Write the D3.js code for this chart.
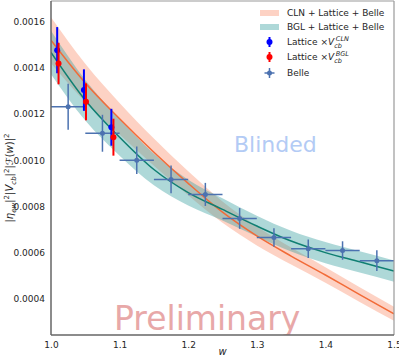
<!DOCTYPE html>
<html>
<head>
<meta charset="utf-8">
<script src="https://cdn.jsdelivr.net/npm/d3@7"></script>
<style>
  body { margin: 0; background: #fff; }
  svg { font-family: "DejaVu Sans", sans-serif; }
</style>
</head>
<body>
<div id="chart"></div>
<script>
// fit curves sampled on a w grid (values in units of 1e-3 are scaled below)
const wGrid = [1.0, 1.05, 1.1, 1.15, 1.2, 1.25, 1.3, 1.35, 1.4, 1.45, 1.5];
const clnMid = [1.520, 1.335, 1.180, 1.035, 0.900, 0.775, 0.672, 0.585, 0.503, 0.418, 0.335];
const clnHi = [1.620, 1.418, 1.248, 1.094, 0.952, 0.821, 0.713, 0.622, 0.537, 0.450, 0.365];
const clnLo = [1.420, 1.252, 1.112, 0.976, 0.848, 0.729, 0.631, 0.548, 0.469, 0.386, 0.305];
const bglMid = [1.467, 1.260, 1.100, 0.960, 0.860, 0.787, 0.715, 0.650, 0.600, 0.560, 0.520];
const bglHi = [1.561, 1.348, 1.180, 1.028, 0.916, 0.835, 0.760, 0.695, 0.646, 0.606, 0.566];
const bglLo = [1.373, 1.172, 1.020, 0.892, 0.804, 0.739, 0.670, 0.605, 0.554, 0.514, 0.474];

// Belle data
const belleW = [1.025, 1.075, 1.125, 1.175, 1.225, 1.275, 1.325, 1.375, 1.425, 1.475];
const belleY = [1.232, 1.117, 1.000, 0.917, 0.852, 0.748, 0.665, 0.617, 0.609, 0.565];
const belleErr = [0.100, 0.080, 0.060, 0.060, 0.050, 0.045, 0.040, 0.040, 0.040, 0.045];
const belleWErr = 0.025;

// lattice points
const latCLNw = [1.009, 1.048, 1.088];
const latCLNy = [1.477, 1.304, 1.143];
const latCLNerr = [0.100, 0.090, 0.080];
const latBGLw = [1.011, 1.051, 1.091];
const latBGLy = [1.419, 1.253, 1.100];
const latBGLerr = [0.090, 0.080, 0.080];

const xTicks = [1.0, 1.1, 1.2, 1.3, 1.4, 1.5];
const yTicks = [0.0004, 0.0006, 0.0008, 0.0010, 0.0012, 0.0014, 0.0016];

const S = 1e-3;
const width = 399, height = 359;
const margin = { left: 51, right: 5, top: 1, bottom: 24 };

const x = d3.scaleLinear().domain([1.0, 1.5]).range([margin.left, width - margin.right]);
const y = d3.scaleLinear().domain([0.000243, 0.00169]).range([height - margin.bottom, margin.top]);

const svg = d3.select("#chart").append("svg")
  .attr("width", width).attr("height", height);

svg.append("defs").append("clipPath").attr("id", "clip")
  .append("rect")
  .attr("x", margin.left).attr("y", margin.top)
  .attr("width", width - margin.left - margin.right)
  .attr("height", height - margin.top - margin.bottom);

const plot = svg.append("g").attr("clip-path", "url(#clip)");

// watermarks
plot.append("text")
  .attr("x", 234).attr("y", 152)
  .style("font-size", "22px").style("fill", "#b3cbf5")
  .text("Blinded");
plot.append("text")
  .attr("x", 114).attr("y", 330)
  .style("font-size", "33px").style("fill", "#e8a8a8")
  .text("Preliminary");

function band(hi, lo) {
  return d3.area()
    .x((d, i) => x(wGrid[i]))
    .y0((d, i) => y(lo[i] * S))
    .y1((d, i) => y(hi[i] * S))
    .curve(d3.curveMonotoneX)(wGrid);
}
function line(vals) {
  return d3.line()
    .x((d, i) => x(wGrid[i]))
    .y((d, i) => y(vals[i] * S))
    .curve(d3.curveMonotoneX)(wGrid);
}

plot.append("path").attr("d", band(clnHi, clnLo))
  .style("fill", "#f98a63").style("opacity", 0.38);
plot.append("path").attr("d", band(bglHi, bglLo))
  .style("fill", "#3fa3a3").style("opacity", 0.42);
plot.append("path").attr("d", line(clnMid))
  .style("fill", "none").style("stroke", "#f26b38").style("stroke-width", 1.5);
plot.append("path").attr("d", line(bglMid))
  .style("fill", "none").style("stroke", "#0f7f72").style("stroke-width", 1.5);

// Belle points
const belle = plot.append("g");
belleW.forEach((w, i) => {
  const c = "#4c72b0";
  belle.append("line")
    .attr("x1", x(w - belleWErr)).attr("x2", x(w + belleWErr))
    .attr("y1", y(belleY[i] * S)).attr("y2", y(belleY[i] * S))
    .style("stroke", c).style("stroke-width", 1.5);
  belle.append("line")
    .attr("x1", x(w)).attr("x2", x(w))
    .attr("y1", y((belleY[i] - belleErr[i]) * S)).attr("y2", y((belleY[i] + belleErr[i]) * S))
    .style("stroke", c).style("stroke-width", 1.5);
  belle.append("circle")
    .attr("cx", x(w)).attr("cy", y(belleY[i] * S)).attr("r", 2.5)
    .style("fill", c);
});

function latticePoints(ws, ys, errs, color) {
  const g = plot.append("g");
  ws.forEach((w, i) => {
    g.append("line")
      .attr("x1", x(w)).attr("x2", x(w))
      .attr("y1", y((ys[i] - errs[i]) * S)).attr("y2", y((ys[i] + errs[i]) * S))
      .style("stroke", color).style("stroke-width", 2);
    g.append("circle")
      .attr("cx", x(w)).attr("cy", y(ys[i] * S)).attr("r", 3)
      .style("fill", color);
  });
}
latticePoints(latCLNw, latCLNy, latCLNerr, "#0000ff");
latticePoints(latBGLw, latBGLy, latBGLerr, "#ff0000");

// frame
const x0 = margin.left, x1 = width - margin.right;
const y0 = margin.top, y1 = height - margin.bottom;
svg.append("line").attr("x1", x0).attr("x2", x1).attr("y1", y0).attr("y2", y0)
  .style("stroke", "#999").style("stroke-width", 1.2);
svg.append("line").attr("x1", x1).attr("x2", x1).attr("y1", y0).attr("y2", y1)
  .style("stroke", "#999").style("stroke-width", 1.2);
svg.append("line").attr("x1", x0).attr("x2", x0).attr("y1", y0).attr("y2", y1)
  .style("stroke", "#666").style("stroke-width", 1.5);
svg.append("line").attr("x1", x0).attr("x2", x1).attr("y1", y1).attr("y2", y1)
  .style("stroke", "#666").style("stroke-width", 1.5);

// axes (labels only, no tick marks)
const xAxis = svg.append("g")
  .attr("transform", `translate(0,${y1})`)
  .call(d3.axisBottom(x).tickValues(xTicks).tickFormat(d3.format(".1f")).tickSize(0).tickPadding(7));
const yAxis = svg.append("g")
  .attr("transform", `translate(${x0},0)`)
  .call(d3.axisLeft(y).tickValues(yTicks).tickFormat(d3.format(".4f")).tickSize(0).tickPadding(6));
[xAxis, yAxis].forEach(a => {
  a.select(".domain").remove();
  a.selectAll("text").style("font-size", "9px").style("fill", "#262626")
    .style("font-family", "DejaVu Sans, sans-serif");
});

// axis labels
svg.append("text")
  .attr("x", (x0 + x1) / 2).attr("y", 355)
  .attr("text-anchor", "middle")
  .style("font-size", "10px").style("font-style", "italic").style("fill", "#262626")
  .text("w");

const yl = svg.append("text")
  .attr("transform", `translate(13,${(y0 + y1) / 2 + 10}) rotate(-90)`)
  .attr("text-anchor", "middle")
  .style("font-size", "10px").style("fill", "#262626");
yl.append("tspan").text("|");
yl.append("tspan").style("font-style", "italic").text("η");
yl.append("tspan").attr("dy", 2.5).style("font-size", "7px").style("font-style", "italic").text("ew");
yl.append("tspan").attr("dy", -2.5).text("|");
yl.append("tspan").attr("dy", -4).style("font-size", "7px").text("2");
yl.append("tspan").attr("dy", 4).text("|");
yl.append("tspan").style("font-style", "italic").text("V");
yl.append("tspan").attr("dy", 2.5).style("font-size", "7px").style("font-style", "italic").text("cb");
yl.append("tspan").attr("dy", -2.5).text("|");
yl.append("tspan").attr("dy", -4).style("font-size", "7px").text("2");
yl.append("tspan").attr("dy", 4).text("|ℱ(");
yl.append("tspan").style("font-style", "italic").text("w");
yl.append("tspan").text(")|");
yl.append("tspan").attr("dy", -4).style("font-size", "7px").text("2");

// legend
const leg = svg.append("g").style("font-size", "9px").style("fill", "#262626");
const legX = 260, textX = 287;
const legRows = [16, 30, 45, 60, 76];

leg.append("rect").attr("x", legX).attr("y", legRows[0] - 6).attr("width", 19).attr("height", 6)
  .style("fill", "#f98a63").style("opacity", 0.38);
leg.append("rect").attr("x", legX).attr("y", legRows[1] - 6).attr("width", 19).attr("height", 6)
  .style("fill", "#3fa3a3").style("opacity", 0.42);

function legMarker(cy, color, withX) {
  const cx = legX + 9.5;
  leg.append("line").attr("x1", cx).attr("x2", cx).attr("y1", cy - 5).attr("y2", cy + 5)
    .style("stroke", color).style("stroke-width", withX ? 1.5 : 2);
  if (withX) {
    leg.append("line").attr("x1", cx - 5).attr("x2", cx + 5).attr("y1", cy).attr("y2", cy)
      .style("stroke", color).style("stroke-width", 1.5);
  }
  leg.append("circle").attr("cx", cx).attr("cy", cy).attr("r", withX ? 2.5 : 3).style("fill", color);
}
legMarker(legRows[2] - 3, "#0000ff", false);
legMarker(legRows[3] - 3, "#ff0000", false);
legMarker(legRows[4] - 3, "#4c72b0", true);

leg.append("text").attr("x", textX).attr("y", legRows[0]).text("CLN + Lattice + Belle");
leg.append("text").attr("x", textX).attr("y", legRows[1]).text("BGL + Lattice + Belle");

function latLegend(yy, sup) {
  const t = leg.append("text").attr("x", textX).attr("y", yy);
  t.append("tspan").text("Lattice ×");
  t.append("tspan").style("font-style", "italic").text("V");
  const subX = null;
  t.append("tspan").attr("dy", 2.5).style("font-size", "6.5px").style("font-style", "italic").text("cb");
  t.append("tspan").attr("dx", -6).attr("dy", -7).style("font-size", "6.5px").style("font-style", "italic").text(sup);
}
latLegend(legRows[2], "CLN");
latLegend(legRows[3], "BGL");
leg.append("text").attr("x", textX).attr("y", legRows[4]).text("Belle");
</script>
</body>
</html>
